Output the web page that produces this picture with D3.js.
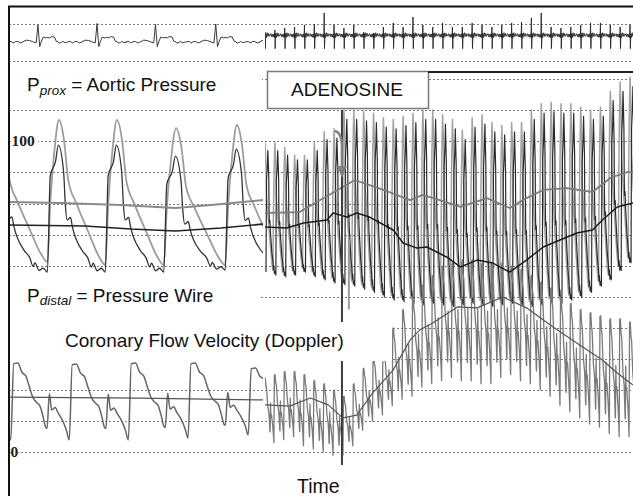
<!DOCTYPE html>
<html>
<head>
<meta charset="utf-8">
<script src="https://cdn.jsdelivr.net/npm/d3@7"></script>
<style>
  html, body { margin: 0; padding: 0; background: #fff; }
  svg { display: block; }
</style>
</head>
<body>
<svg id="chart" width="633" height="496"></svg>
<script>
// ---------------------------------------------------------------
// Recording data: baseline (left, 1 s ≈ 59 px) and adenosine
// infusion (right, compressed time, 1 beat per second)
// ---------------------------------------------------------------
const leftSpan = [0, 4.3];     // s
const rightSpan = [0, 37.3];   // s

const pressureGrid = [0, 20, 40, 60, 80, 100, 120, 140];   // mmHg
const flowGrid = [0, 10, 20, 30, 40];                       // cm/s
const ecgGrid = [-1, 1];                                    // mV
const pressureTickLabels = ["100"];
const flowTickLabels = ["0"];

// ---- ECG, baseline ----
const ecgLeftR = [-0.5, 0.49, 1.49, 2.48, 3.50, 4.5];
const ecgLeftAmp = [0.95, 0.92, 1.0, 0.95, 0.97, 0.95];
// [time from R (s), mV]; null marks the R wave
const ecgLeftShape = [
  [-0.5, 0], [-0.45, 0.04], [-0.42, -0.06], [-0.38, 0.02], [-0.34, 0.03], [-0.3, -0.05],
  [-0.27, -0.02], [-0.2, 0.1], [-0.14, 0.08], [-0.08, 0.0], [-0.03, -0.05], [0, null],
  [0.03, -0.25], [0.06, 0.05], [0.09, 0.27], [0.13, 0.22], [0.16, 0.25], [0.2, 0.22],
  [0.23, 0.29], [0.28, 0.27], [0.31, 0.04], [0.34, 0.02], [0.36, -0.06], [0.4, -0.02],
  [0.42, 0.03], [0.46, -0.04], [0.5, 0]
];

// ---- ECG, during adenosine ----
const beatsRight = [0, 1, 2, 3, 4, 5, 6, 7, 8, 9, 10, 11, 12, 13, 14, 15, 16, 17, 18,
  19, 20, 21, 22, 23, 24, 25, 26, 27, 28, 29, 30, 31, 32, 33, 34, 35, 36, 37];
const ecgRightAmp = [0.54, 0.65, 0.76, 0.81, 0.92, 0.97, 1.57, 0.92, 0.76, 0.92, 0.54,
  0.49, 0.81, 1.03, 0.81, 1.35, 0.92, 0.81, 1.03, 0.81, 0.81, 1.03, 0.92, 0.81, 0.92,
  1.03, 1.08, 1.30, 1.57, 0.81, 0.76, 0.81, 0.92, 1.03, 1.03, 0.92, 0.81, 0.92];
const ecgRightBase = 0.36;
const ecgRightShape = [
  [-0.5, 0.0], [-0.4, 0.09], [-0.33, -0.07], [-0.25, 0.06], [-0.18, -0.1],
  [-0.1, 0.08], [-0.04, -0.12], [0, null], [0.03, -0.72], [0.08, 0.1],
  [0.14, -0.12], [0.22, 0.14], [0.3, -0.06], [0.38, 0.1], [0.45, -0.05], [0.5, 0.0]
];

// ---- Pressure waveform shapes [fraction of beat, fraction of pulse] ----
const proxShape = [
  [0, 0], [0.05, 0.42], [0.12, 0.78], [0.2, 1], [0.29, 0.85], [0.36, 0.58],
  [0.5, 0.42], [0.7, 0.23], [0.9, 0.05], [1, 0]
];
const distShape = [
  [0, 0], [0.05, 0.76], [0.14, 0.87], [0.19, 1], [0.28, 0.79], [0.31, 0.53],
  [0.34, 0.41], [0.4, 0.43], [0.43, 0.36], [0.6, 0.17], [0.7, 0.11],
  [0.76, 0.04], [0.79, 0.07], [0.86, 0.01], [0.93, 0.03], [1, 0]
];

// ---- Pressure, baseline (upstroke times, mmHg) ----
const pLeftBeats = [-0.35, 0.65, 1.63, 2.62, 3.66, 4.65];
const proxLeftPeak = [113.6, 113.6, 113.6, 108.4, 110.4, 110.4];
const proxLeftTrough = [22.5, 22.5, 20.5, 20.5, 20.5, 20.5];
const distLeftPeak = [97.5, 97.5, 97.5, 90.4, 94.9, 94.9];
const distLeftTrough = [17.3, 16.0, 16.0, 16.0, 17.3, 17.3];
const proxLeftMean = [[0, 61.0], [0.87, 60.3], [1.89, 59.0], [2.82, 57.1], [3.42, 59.0], [4.3, 62.2]];
const distLeftMean = [[0, 46.2], [1.29, 45.6], [2.06, 43.6], [2.82, 42.4], [3.59, 44.3], [4.3, 46.8]];

// ---- Pressure, during adenosine (one value per beat, mmHg) ----
const pressureLead = -0.2;   // upstroke relative to beat time (s)
const proxRightPeak = [99, 99, 96, 91, 91, 99, 106, 108, 120, 120, 119, 118, 115, 114,
  116, 118, 120, 120, 117, 114, 107, 115, 117, 112, 110, 112, 112, 120, 124, 125, 124,
  124, 122, 120, 122, 132, 138, 141];
const proxRightTrough = [19, 17, 16, 17, 19, 16, 14, 12, 11, 10, 8, 6, 3, 1, 0, -1, -2,
  -1, -2, -3, -2, -1, -2, -3, -2, -1, -2, -3, -2, -1, -1, 1, 3, 6, 10, 14, 20, 25];
const distRightPeak = [94, 94, 91, 88, 88, 94, 101, 102, 114, 114, 113, 112, 109, 108,
  110, 112, 114, 114, 111, 108, 101, 109, 111, 106, 104, 106, 106, 114, 118, 119, 118,
  118, 116, 114, 116, 126, 132, 135];
const distRightTrough = [16, 14, 13, 14, 16, 13, 11, 9, 8, 7, 5, 3, 0, -2, -3, -4, -5,
  -4, -5, -6, -5, -4, -5, -6, -5, -4, -5, -6, -5, -4, -4, -2, 0, 3, 7, 11, 17, 22];
const proxRightMean = [[0, 53.9], [3.5, 54.5], [5.6, 62.2], [9.1, 75.1], [12.0, 68.7],
  [14.7, 62.2], [16.0, 65.5], [17.7, 62.2], [19.8, 57.8], [22.5, 63.5], [24.8, 57.1],
  [26.5, 63.5], [28.2, 68.7], [30.6, 69.9], [33.2, 67.4], [35.0, 76.4], [36.7, 80.2], [37.3, 80.2]];
const distRightMean = [[0, 44.9], [2.2, 44.3], [3.9, 47.5], [6.3, 49.4], [6.9, 53.9],
  [8.3, 51.3], [9.3, 53.9], [10.6, 51.3], [13.0, 43.0], [14.0, 34.7], [15.4, 31.4],
  [16.4, 32.1], [18.4, 25.7], [19.8, 19.3], [21.5, 23.7], [23.1, 21.8], [24.8, 16.0],
  [26.5, 23.7], [28.2, 32.1], [29.9, 36.6], [31.6, 41.1], [33.2, 43.0], [34.2, 49.4],
  [35.7, 57.8], [37.3, 60.3]];
// catheter flush artefact when the bolus is given
const flushArtefact = [[8.5, 37], [8.5, -8]];
const adenosineStart = 7.8;   // s, injection mark

// ---- Coronary flow velocity (Doppler) ----
const flowShape = [
  [0, 0], [0.05, 0.99], [0.12, 1], [0.19, 0.88], [0.26, 0.83], [0.31, 0.71],
  [0.38, 0.55], [0.45, 0.48], [0.5, 0.44], [0.55, 0.31], [0.6, 0.16], [0.62, 0.15],
  [0.66, 0.6], [0.7, 0.39], [0.76, 0.42], [0.81, 0.35], [0.88, 0.26], [0.95, 0.13], [1, 0]
];
const flowLeftBeats = [-0.97, 0.03, 1.02, 2.02, 3.03, 4.05];
const flowLeftPeak = [28.7, 28.7, 28.4, 28.7, 28.7, 27.1];
const flowLeftTrough = [4.0, 3.9, 3.9, 3.9, 4.5, 5.5];
const flowLeftMean = [[0, 17.7], [2.2, 17.4], [4.3, 16.8]];

const flowLead = -0.1;
const flowRightPeak = [24, 25, 26, 26, 25, 23, 22, 20, 18, 22, 27, 31, 35, 40, 46, 50,
  54, 57, 60, 61, 62, 62, 61, 61, 61, 60, 59, 57, 55, 53, 50, 48, 46, 45, 44, 43, 43, 42];
const flowRightTrough = [4, 3, 4, 5, 2, 1, 0, -1, -1, 2, 7, 10, 12, 15, 17, 18, 21, 22,
  23, 24, 23, 23, 22, 22, 24, 25, 23, 22, 20, 18, 15, 13, 11, 9, 8, 6, 5, 5];
const flowRightMean = [[0, 15.2], [2.5, 14.8], [4.6, 17.4], [6.4, 15.2], [7.9, 11.0],
  [9.3, 11.9], [10.9, 19.0], [13.0, 26.5], [14.7, 36.1], [15.7, 39.4], [17.0, 41.6],
  [19.5, 46.8], [21.5, 46.5], [24.1, 50.0], [26.5, 46.5], [29.2, 40.3], [32.2, 33.9],
  [34.2, 29.7], [35.7, 25.5], [37.3, 21.6]];

// ---------------------------------------------------------------
// Scales
// ---------------------------------------------------------------
const svg = d3.select("#chart");
const xL = d3.scaleLinear().domain(leftSpan).range([9, 263]);
const xR = d3.scaleLinear().domain(rightSpan).range([265, 633]);
const yP = d3.scaleLinear().domain([0, 100]).range([297, 141.2]);
const yF = d3.scaleLinear().domain([0, 10]).range([452, 421]);
const yE = d3.scaleLinear().domain(ecgGrid).range([60.5, 23.5]);

// ---------------------------------------------------------------
// Helpers that turn per-beat values into a trace
// ---------------------------------------------------------------
function beatTrace(starts, peaks, troughs, shape) {
  const pts = [];
  starts.forEach((t0, i) => {
    const last = i === starts.length - 1;
    const t1 = last ? t0 + (t0 - starts[i - 1]) : starts[i + 1];
    const b0 = troughs[i], b1 = last ? troughs[i] : troughs[i + 1];
    shape.forEach(([p, s], j) => {
      if (j === shape.length - 1 && !last) return;
      const base = b0 + (b1 - b0) * p;
      pts.push([t0 + p * (t1 - t0), base + (peaks[i] - base) * s]);
    });
  });
  return pts;
}
function ecgTrace(rTimes, amps, shape, base) {
  const pts = [];
  rTimes.forEach((t, i) => shape.forEach(([dt, v]) => {
    pts.push([t + dt, v === null ? amps[i] : base + v]);
  }));
  return pts;
}
const shifted = (arr, d) => arr.map(t => t + d);

// ---------------------------------------------------------------
// Clip regions for the two time windows
// ---------------------------------------------------------------
const defs = svg.append("defs");
defs.append("clipPath").attr("id", "clipL").append("rect")
  .attr("x", xL.range()[0]).attr("y", 0).attr("width", xL.range()[1] - xL.range()[0]).attr("height", 496);
defs.append("clipPath").attr("id", "clipR").append("rect")
  .attr("x", xR.range()[0]).attr("y", 0).attr("width", xR.range()[1] - xR.range()[0]).attr("height", 496);

svg.append("rect").attr("width", 633).attr("height", 496).attr("fill", "#fff");

// ---------------------------------------------------------------
// Grid
// ---------------------------------------------------------------
const grid = svg.append("g").attr("stroke", "#7a7a7a").attr("stroke-width", 1)
  .attr("stroke-dasharray", "2,2").attr("fill", "none");
const gridRows = [
  ...ecgGrid.map(v => Math.round(yE(v)) + 0.5),
  ...pressureGrid.map(v => Math.round(yP(v)) + 0.5),
  ...flowGrid.map(v => Math.round(yF(v)) + 0.5)
];
gridRows.forEach(y => {
  grid.append("line").attr("x1", 9).attr("x2", 633).attr("y1", y).attr("y2", y);
});

// ---------------------------------------------------------------
// Traces
// ---------------------------------------------------------------
const lineL = (ys) => d3.line().x(d => xL(d[0])).y(d => ys(d[1])).curve(d3.curveMonotoneX);
const lineLs = (ys) => d3.line().x(d => xL(d[0])).y(d => ys(d[1]));
const lineR = (ys) => d3.line().x(d => xR(d[0])).y(d => ys(d[1]));

const gL = svg.append("g").attr("clip-path", "url(#clipL)").attr("fill", "none")
  .attr("stroke-linejoin", "round");
const gR = svg.append("g").attr("clip-path", "url(#clipR)").attr("fill", "none")
  .attr("stroke-linejoin", "round");

// ECG
gL.append("path").attr("d", lineLs(yE)(ecgTrace(ecgLeftR, ecgLeftAmp, ecgLeftShape, 0)))
  .attr("stroke", "#3a3a3a").attr("stroke-width", 1);
gR.append("path").attr("d", lineR(yE)(ecgTrace(beatsRight, ecgRightAmp, ecgRightShape, ecgRightBase)))
  .attr("stroke", "#262626").attr("stroke-width", 0.9);

// Pressure, baseline
gL.append("path").attr("d", lineL(yP)(beatTrace(pLeftBeats, proxLeftPeak, proxLeftTrough, proxShape)))
  .attr("stroke", "#9c9c9c").attr("stroke-width", 1.8);
gL.append("path").attr("d", lineL(yP)(beatTrace(pLeftBeats, distLeftPeak, distLeftTrough, distShape)))
  .attr("stroke", "#333").attr("stroke-width", 1.3);

// Pressure, adenosine
const pBeatsR = shifted(beatsRight, pressureLead);
gR.append("path").attr("d", lineR(yP)(beatTrace(pBeatsR, proxRightPeak, proxRightTrough, proxShape)))
  .attr("stroke", "#a2a2a2").attr("stroke-width", 1.5);
gR.append("path").attr("d", lineR(yP)(beatTrace(shifted(pBeatsR, 0.3), distRightPeak, distRightTrough, distShape)))
  .attr("stroke", "#2c2c2c").attr("stroke-width", 1.2);
gR.append("path").attr("d", lineR(yP)(flushArtefact))
  .attr("stroke", "#999").attr("stroke-width", 2);

// Doppler flow velocity
gL.append("path").attr("d", lineL(yF)(beatTrace(flowLeftBeats, flowLeftPeak, flowLeftTrough, flowShape)))
  .attr("stroke", "#666").attr("stroke-width", 1.5);
gR.append("path").attr("d", lineR(yF)(beatTrace(shifted(beatsRight, flowLead), flowRightPeak, flowRightTrough, flowShape)))
  .attr("stroke", "#7a7a7a").attr("stroke-width", 1.3);

// Mean pressures and mean velocity
gL.append("path").attr("d", lineLs(yP)(proxLeftMean)).attr("stroke", "#8a8a8a").attr("stroke-width", 2);
gL.append("path").attr("d", lineLs(yP)(distLeftMean)).attr("stroke", "#222").attr("stroke-width", 1.6);
gL.append("path").attr("d", lineLs(yF)(flowLeftMean)).attr("stroke", "#555").attr("stroke-width", 1.3);
gR.append("path").attr("d", lineR(yP)(proxRightMean)).attr("stroke", "#7c7c7c").attr("stroke-width", 1.8);
gR.append("path").attr("d", lineR(yP)(distRightMean)).attr("stroke", "#1a1a1a").attr("stroke-width", 1.5);
gR.append("path").attr("d", lineR(yF)(flowRightMean)).attr("stroke", "#555").attr("stroke-width", 1.2);

// Injection mark and arrow
const xMark = xR(adenosineStart);
svg.append("line").attr("x1", xMark).attr("x2", xMark).attr("y1", 110).attr("y2", 465)
  .attr("stroke", "#3c3c3c").attr("stroke-width", 2);
svg.append("path")
  .attr("d", `M${xMark - 7},131 C${xMark - 2},132 ${xMark},138 ${xMark},148 L${xMark},168`)
  .attr("fill", "none").attr("stroke", "#808080").attr("stroke-width", 2.5);
svg.append("path")
  .attr("d", `M${xMark - 5},166 L${xMark + 5},166 L${xMark},178 Z`)
  .attr("fill", "#808080");

// ---------------------------------------------------------------
// Labels (on white plates)
// ---------------------------------------------------------------
const plates = [
  [10, 66, 252, 40],
  [10, 282, 249, 29],
  [10, 322, 382, 39]
];
plates.forEach(([x, y, w, h]) => svg.append("rect").attr("x", x).attr("y", y)
  .attr("width", w).attr("height", h).attr("fill", "#fff"));

// adenosine infusion box and bar
svg.append("rect").attr("x", 267.5).attr("y", 71.5).attr("width", 161).attr("height", 37)
  .attr("fill", "#fff").attr("stroke", "#7a7a7a").attr("stroke-width", 1.5);
svg.append("line").attr("x1", 428).attr("x2", 633).attr("y1", 72).attr("y2", 72)
  .attr("stroke", "#222").attr("stroke-width", 2);

const sans = "'Liberation Sans', Arial, sans-serif";
const label = (x, y, size) => svg.append("text").attr("x", x).attr("y", y)
  .attr("font-family", sans).attr("font-size", size).attr("fill", "#111");

const t1 = label(27, 91, 19);
t1.append("tspan").text("P");
t1.append("tspan").attr("font-size", 13.5).attr("font-style", "italic").attr("dy", 4).text("prox");
t1.append("tspan").attr("dy", -4).text(" = Aortic Pressure");

const t2 = label(27, 302, 19);
t2.append("tspan").text("P");
t2.append("tspan").attr("font-size", 13.5).attr("font-style", "italic").attr("dy", 3).text("distal");
t2.append("tspan").attr("dy", -3).text(" = Pressure Wire");

label(65, 347, 19).text("Coronary Flow Velocity (Doppler)");
label(347, 96, 19).attr("text-anchor", "middle").text("ADENOSINE");
label(297, 493, 19.5).text("Time");

// axis values
const serif = "'Liberation Serif', 'DejaVu Serif', serif";
pressureTickLabels.forEach(s => {
  const y = yP(+s);
  svg.append("rect").attr("x", 11).attr("y", y - 7).attr("width", 27).attr("height", 13).attr("fill", "#fff");
  svg.append("text").attr("x", 11.5).attr("y", y + 5).attr("font-family", serif)
    .attr("font-weight", "bold").attr("font-size", 15.5).attr("fill", "#222").text(s);
});
flowTickLabels.forEach(s => {
  const y = yF(+s);
  svg.append("rect").attr("x", 11).attr("y", y - 7).attr("width", 7).attr("height", 13).attr("fill", "#fff");
  svg.append("text").attr("x", 10.5).attr("y", y + 5).attr("font-family", serif)
    .attr("font-weight", "bold").attr("font-size", 15.5).attr("fill", "#222").text(s);
});

// frame
svg.append("line").attr("x1", 8).attr("x2", 633).attr("y1", 6.5).attr("y2", 6.5)
  .attr("stroke", "#111").attr("stroke-width", 2);
svg.append("line").attr("x1", 9).attr("x2", 9).attr("y1", 6).attr("y2", 496)
  .attr("stroke", "#111").attr("stroke-width", 2);
</script>
</body>
</html>
